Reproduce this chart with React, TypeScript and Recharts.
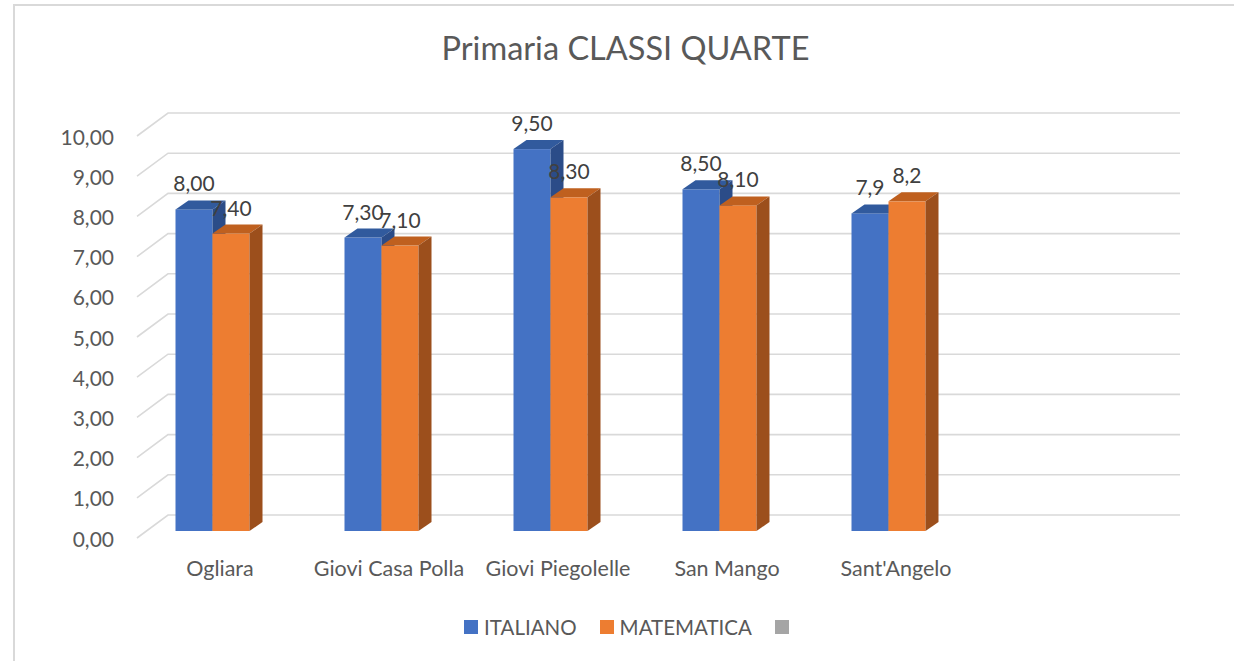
import { BarChart, Bar, XAxis, YAxis, CartesianGrid, Legend, LabelList } from 'recharts';

const CATEGORIES = ['Ogliara', 'Giovi Casa Polla', 'Giovi Piegolelle', 'San Mango', "Sant'Angelo", ''];
const ITALIANO = [8.0, 7.3, 9.5, 8.5, 7.9, null];
const MATEMATICA = [7.4, 7.1, 8.3, 8.1, 8.2, null];
const ITALIANO_LABELS = ['8,00', '7,30', '9,50', '8,50', '7,9', ''];
const MATEMATICA_LABELS = ['7,40', '7,10', '8,30', '8,10', '8,2', ''];
const Y_TICKS = [0, 1, 2, 3, 4, 5, 6, 7, 8, 9, 10];

const SERIES = [
  { name: 'ITALIANO', color: '#4472C4' },
  { name: 'MATEMATICA', color: '#ED7D31' },
  { name: '', color: '#A5A5A5' },
];

const FONT = 'Lato, "Open Sans", sans-serif';
const TEXT = '#595959';
const GRID = '#d9d9d9';
// 3d look: depth of the bars and of the back wall
const BAR_DX = 13;
const BAR_DY = 9;

const data = CATEGORIES.map((name, i) => ({
  name,
  italiano: ITALIANO[i],
  matematica: MATEMATICA[i],
  italianoLabel: ITALIANO_LABELS[i],
  matematicaLabel: MATEMATICA_LABELS[i],
}));

function makeBox(top: string, side: string) {
  return (props: any) => {
    const { x, y, width: w, height: h, fill } = props;
    if (!h || h <= 0) return <g />;
    return (
      <g>
        <rect x={x} y={y} width={w} height={h} fill={fill} />
        <polygon points={`${x},${y} ${x + BAR_DX},${y - BAR_DY} ${x + w + BAR_DX},${y - BAR_DY} ${x + w},${y}`} fill={top} />
        <polygon points={`${x + w},${y} ${x + w + BAR_DX},${y - BAR_DY} ${x + w + BAR_DX},${y + h - BAR_DY} ${x + w},${y + h}`} fill={side} />
      </g>
    );
  };
}

const BlueBox = makeBox('#315A9D', '#2B4C88');
const OrangeBox = makeBox('#BF601F', '#9C4F1C');

function gridLine(props: any) {
  const { x1, x2, y1, index } = props;
  const pts = `${x1 + 9.5},${y1 + 7} ${x1 + 40.5},${y1 - 16} ${x2 + 38.5},${y1 - 16}`;
  return <polyline key={`g-${index}`} points={pts} fill="none" stroke={GRID} strokeWidth={1.6} />;
}

function YTick(props: any) {
  const { x, y, payload } = props;
  return (
    <text x={x - 13.5} y={y + 15.5} textAnchor="end" fill={TEXT} fontFamily={FONT} fontSize={21}>
      {payload.value.toFixed(2).replace('.', ',')}
    </text>
  );
}

function XTick(props: any) {
  const { x, y, payload } = props;
  return (
    <text x={x + 8} y={y + 45} textAnchor="middle" fill={TEXT} fontFamily={FONT} fontSize={21.5}>
      {payload.value}
    </text>
  );
}

function renderLabel(props: any) {
  const { x, y, width, value } = props;
  if (!value) return null;
  return (
    <text x={x + width / 2} y={y - 18} textAnchor="middle" fill="#404040" fontFamily={FONT} fontSize={21}>
      {value}
    </text>
  );
}

function LegendContent() {
  return (
    <div style={{ display: 'flex', justifyContent: 'center', alignItems: 'center', height: 20, fontFamily: FONT, fontSize: 20.5, color: TEXT, paddingLeft: 25 }}>
      {SERIES.map((s, i) => (
        <div key={i} style={{ display: 'flex', alignItems: 'center', marginRight: i < SERIES.length - 1 ? 23 : 0 }}>
          <span style={{ display: 'inline-block', width: 14, height: 14, background: s.color, marginRight: 6 }} />
          <span>{s.name}</span>
        </div>
      ))}
    </div>
  );
}

export default function App() {
  return (
    <div style={{ position: 'absolute', left: 0, top: 0, width: 1234, height: 661, background: '#fff' }}>
      <div style={{ position: 'absolute', left: 13, top: 4, right: 0, bottom: 0, borderLeft: `2px solid ${GRID}`, borderTop: `2px solid ${GRID}` }} />
      <div style={{ position: 'absolute', left: 0, width: 1251, top: 28, textAlign: 'center', fontFamily: FONT, fontSize: 32.5, color: TEXT }}>
        Primaria CLASSI QUARTE
      </div>
      <BarChart
        width={1234}
        height={661}
        data={data}
        margin={{ top: 129, right: 92.5, bottom: 24, left: 27.5 }}
        barGap={0}
        barSize={37}
        style={{ position: 'absolute', left: 0, top: 0 }}
      >
        <CartesianGrid vertical={false} horizontal={gridLine} />
        <XAxis dataKey="name" axisLine={false} tickLine={false} tickSize={0} tickMargin={0} height={86} tick={XTick} interval={0} />
        <YAxis domain={[0, 10]} ticks={Y_TICKS} axisLine={false} tickLine={false} tickSize={0} tickMargin={0} width={100} tick={YTick} />
        <Legend verticalAlign="bottom" height={20} content={LegendContent} wrapperStyle={{ left: 0, width: 1234 }} />
        <Bar dataKey="italiano" name="ITALIANO" fill="#4472C4" shape={BlueBox} isAnimationActive={false}>
          <LabelList dataKey="italianoLabel" content={renderLabel} />
        </Bar>
        <Bar dataKey="matematica" name="MATEMATICA" fill="#ED7D31" shape={OrangeBox} isAnimationActive={false}>
          <LabelList dataKey="matematicaLabel" content={renderLabel} />
        </Bar>
      </BarChart>
    </div>
  );
}
